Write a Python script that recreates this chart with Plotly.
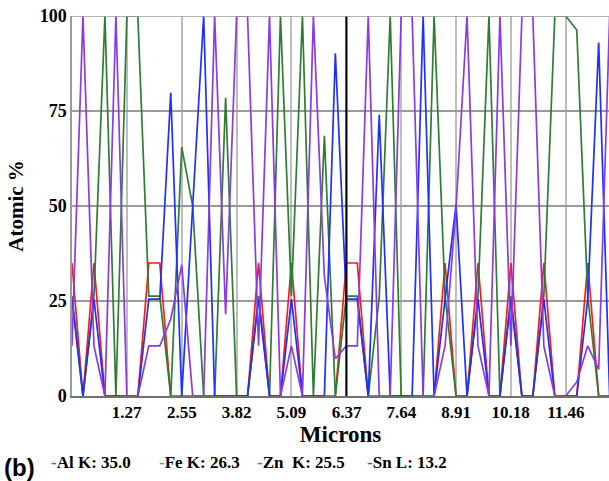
import plotly.graph_objects as go

# ---- data (atomic %, sampled every 0.2546 micron) ----
sample_step = 0.2546
al_k = [35.0, 0, 35.0, 0, 0, 0, 0, 35.0, 35.0, 0,
        0, 0, 0, 0, 0, 0, 0, 35.0, 0, 0,
        35.0, 0, 0, 0, 0, 35.0, 35.0, 0, 0, 0,
        0, 0, 0, 0, 35.0, 0, 0, 35.0, 0, 0,
        35.0, 0, 0, 35.0, 0, 0, 0, 35.0, 0, 0]
fe_k = [26.3, 0, 26.3, 100, 0, 100, 100, 26.3, 26.3, 0,
        65.5, 50, 0, 0, 78.5, 0, 0, 26.3, 0, 100,
        26.3, 100, 0, 68.5, 0, 26.3, 26.3, 0, 26, 100,
        0, 0, 0, 100, 26.3, 0, 0, 26.3, 100, 0,
        26.3, 0, 0, 26.3, 100, 100, 96.3, 26.3, 0, 0]
zn_k = [25.5, 0, 25.5, 0, 0, 0, 0, 25.5, 25.5, 79.8,
        0, 50, 100, 0, 0, 0, 0, 25.5, 0, 0,
        25.5, 0, 0, 0, 90.2, 25.5, 25.5, 0, 74, 0,
        0, 0, 100, 0, 25.5, 50.5, 0, 25.5, 0, 0,
        25.5, 0, 0, 25.5, 0, 0, 0, 25.5, 93, 0]
sn_l = [13.2, 100, 13.2, 0, 100, 0, 0, 13.2, 13.2, 20.2,
        34.5, 0, 0, 100, 21.5, 100, 100, 13.2, 100, 0,
        13.2, 0, 100, 31.5, 9.8, 13.2, 13.2, 100, 0, 0,
        100, 100, 0, 0, 13.2, 49.5, 100, 13.2, 0, 100,
        13.2, 100, 100, 13.2, 0, 0, 3.7, 13.2, 7, 100]

series_names = ["Al K", "Fe K", "Zn  K", "Sn L"]
cursor_values = [35.0, 26.3, 25.5, 13.2]
cursor_position = 6.365
x_tick_values = [1.27, 2.55, 3.82, 5.09, 6.37, 7.64, 8.91, 10.18, 11.46]
y_tick_values = [0, 25, 50, 75, 100]

line_colors = ["#ff1a1a", "#2e7d32", "#1f2fff", "#8a3ae6"]
legend_colors = ["#ff2020", "#2ecc55", "#3a80d8", "#6a4c9c"]

x_vals = [i * sample_step for i in range(len(al_k))]

fig = go.Figure()
for name, ys, col in zip(series_names, [al_k, fe_k, zn_k, sn_l], line_colors):
    fig.add_trace(go.Scatter(x=x_vals, y=ys, mode="lines", name=name,
                             line=dict(color=col, width=1.7), showlegend=False))

fig.add_vline(x=cursor_position, line=dict(color="black", width=2))

font_family = "Liberation Serif"
fig.update_layout(
    width=609, height=481,
    margin=dict(l=72, r=0, t=16, b=85),
    paper_bgcolor="white", plot_bgcolor="white",
    font=dict(family=font_family, color="black"),
    xaxis=dict(range=[0, 12.46], tickvals=x_tick_values,
               ticktext=[f"{v:.2f}" for v in x_tick_values],
               tickfont=dict(size=17, family=font_family, weight="bold"),
               showgrid=True, gridcolor="#bdbdbd", gridwidth=1.5,
               zeroline=False, showline=True, linecolor="#707070", linewidth=1.5,
               mirror=False, ticks="",
               title=dict(text="<b>Microns</b>", font=dict(size=23, family=font_family),
                          standoff=4)),
    yaxis=dict(range=[0, 100], tickvals=y_tick_values,
               tickfont=dict(size=18, family=font_family, weight="bold"),
               showgrid=True, gridcolor="#9a9a9a", gridwidth=1.5,
               zeroline=False, showline=True, linecolor="#9a9a9a", linewidth=1.5,
               ticks="", ticklen=0,
               title=dict(text="<b>Atomic %</b>", font=dict(size=21, family=font_family),
                          standoff=10)),
)

# top border line at 100
fig.add_hline(y=100, line=dict(color="#9a9a9a", width=1.5))

# legend built from series names and cursor values
legend_x = [49, 157, 255, 365]
for name, val, col, lx in zip(series_names, cursor_values, legend_colors, legend_x):
    fig.add_annotation(x=(lx - 72) / 537, y=(396 - 462) / 380,
                       xref="x domain", yref="y domain", showarrow=False,
                       xanchor="left", yanchor="middle",
                       text=f"<span style='color:{col}'><b>-</b></span><b>{name}: {val:.1f}</b>",
                       font=dict(size=17, family=font_family, color="black"))

fig.add_annotation(x=(2 - 72) / 537, y=(396 - 468) / 380, xref="x domain", yref="y domain",
                   showarrow=False, xanchor="left", yanchor="middle", text="<b>(b)</b>",
                   font=dict(size=24, family="Liberation Sans", color="black"))

fig.write_html("out.html")
